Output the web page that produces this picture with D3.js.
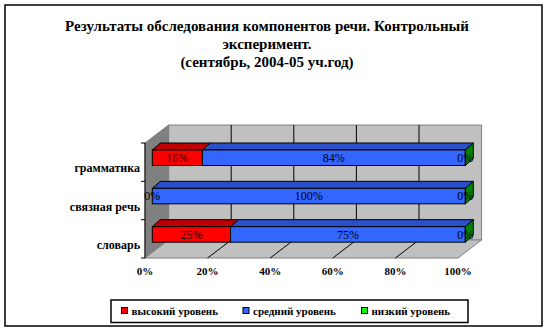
<!DOCTYPE html>
<html>
<head>
<meta charset="utf-8">
<script src="https://cdn.jsdelivr.net/npm/d3@7/dist/d3.min.js"></script>
<style>
  html, body { margin: 0; padding: 0; background: #fff; }
  svg { display: block; }
  svg text { font-family: "Liberation Serif", serif; }
</style>
</head>
<body>
<script>
// Speech components survey, control experiment (September, 2004-05)
const categories = ["грамматика", "связная речь", "словарь"];
const seriesNames = ["высокий уровень", "средний уровень", "низкий уровень"];
const high = [16, 0, 25];
const medium = [84, 100, 75];
const low = [0, 0, 0];
const tickValues = [0, 20, 40, 60, 80, 100];
const tickLabels = ["0%", "20%", "40%", "60%", "80%", "100%"];
const titleLines = [
  "Результаты обследования компонентов речи. Контрольный",
  "эксперимент.",
  "(сентябрь, 2004-05 уч.год)"
];

const W = 549, H = 331;
const frontColors = ["#ff0000", "#3366ff", "#00ff00"];
const topColors = ["#c00000", "#2a4fc8", "#00a000"];
const sideColors = ["#b00000", "#2545b0", "#008000"];

const svg = d3.select("body").append("svg").attr("width", W).attr("height", H);

// outer frame
svg.append("rect").attr("x", 5).attr("y", 5).attr("width", 537).attr("height", 321)
  .attr("fill", "#fff").attr("stroke", "#000").attr("stroke-width", 1.5);

// title
svg.append("g").selectAll("text").data(titleLines).join("text")
  .attr("x", 267).attr("y", (d, i) => 31 + i * 18)
  .attr("text-anchor", "middle").attr("font-weight", "bold").attr("font-size", 15)
  .text(d => d);

// 3D plot geometry: front plane and depth offset of the walls
const x = d3.scaleLinear().domain([0, 100]).range([145, 458]);
const y = d3.scaleBand().domain(categories).range([143, 258]);
const depth = { dx: 23.6, dy: 18 };
const barShift = { dx: 7.3, dy: 0 };
const bar = { dx: 8, dy: 7, top: 7, h: 15.5 };
const plotTop = 143, plotBottom = 258;

const g = svg.append("g");
const pts = a => a.map(p => p.join(",")).join(" ");

// back wall
g.append("polygon")
  .attr("points", pts([[x(0) + depth.dx, plotTop - depth.dy], [x(100) + depth.dx, plotTop - depth.dy],
                       [x(100) + depth.dx, plotBottom - depth.dy], [x(0) + depth.dx, plotBottom - depth.dy]]))
  .attr("fill", "#c0c0c0").attr("stroke", "#808080");
// left wall
g.append("polygon")
  .attr("points", pts([[x(0), plotTop], [x(0) + depth.dx, plotTop - depth.dy],
                       [x(0) + depth.dx, plotBottom - depth.dy], [x(0), plotBottom]]))
  .attr("fill", "#808080").attr("stroke", "#808080");
// floor
g.append("polygon")
  .attr("points", pts([[x(0), plotBottom], [x(100), plotBottom],
                       [x(100) + depth.dx, plotBottom - depth.dy], [x(0) + depth.dx, plotBottom - depth.dy]]))
  .attr("fill", "#c0c0c0").attr("stroke", "#808080");

// gridlines on back wall and floor
const inner = tickValues.slice(1, -1);
g.selectAll(".gw").data(inner).join("line")
  .attr("x1", d => x(d) + depth.dx).attr("x2", d => x(d) + depth.dx)
  .attr("y1", plotTop - depth.dy).attr("y2", plotBottom - depth.dy)
  .attr("stroke", "#000").attr("stroke-width", 1);
g.selectAll(".gf").data(inner).join("line")
  .attr("x1", d => x(d)).attr("y1", plotBottom)
  .attr("x2", d => x(d) + depth.dx).attr("y2", plotBottom - depth.dy)
  .attr("stroke", "#000").attr("stroke-width", 1);

// category axis
g.append("line").attr("x1", x(0)).attr("x2", x(0)).attr("y1", plotTop).attr("y2", plotBottom)
  .attr("stroke", "#000");
const catTicks = categories.map(c => y(c)).concat([plotBottom]);
g.selectAll(".ct").data(catTicks).join("line")
  .attr("x1", x(0) - 4).attr("x2", x(0)).attr("y1", d => d).attr("y2", d => d)
  .attr("stroke", "#000");
g.selectAll(".cl").data(categories).join("text")
  .attr("x", 140).attr("y", d => y(d) + y.bandwidth() / 2 + 10)
  .attr("text-anchor", "end").attr("font-weight", "bold").attr("font-size", 12)
  .text(d => d);

// value axis labels
g.selectAll(".vl").data(tickValues).join("text")
  .attr("x", d => x(d)).attr("y", 275)
  .attr("text-anchor", "middle").attr("font-weight", "bold").attr("font-size", 11)
  .text((d, i) => tickLabels[i]);

// stacked 3D bars
const xb = v => x(v) + barShift.dx;
const stackData = categories.map((c, i) => ({ cat: c, vals: [high[i], medium[i], low[i]] }));
stackData.forEach(row => {
  const by = y(row.cat) + bar.top;
  let acc = 0;
  const segs = row.vals.map((v, k) => { const s = { k, v, x0: acc, x1: acc + v }; acc += v; return s; });
  const bg = g.append("g");
  segs.forEach(s => {
    const a = xb(s.x0), b = xb(s.x1);
    if (s.v > 0) {
      bg.append("polygon")
        .attr("points", pts([[a, by], [b, by], [b + bar.dx, by - bar.dy], [a + bar.dx, by - bar.dy]]))
        .attr("fill", topColors[s.k]).attr("stroke", "#000").attr("stroke-width", 1);
      bg.append("rect").attr("x", a).attr("y", by).attr("width", b - a).attr("height", bar.h)
        .attr("fill", frontColors[s.k]).attr("stroke", "#000").attr("stroke-width", 1);
    }
  });
  // end face belongs to the last series
  const last = segs[segs.length - 1];
  const e = xb(last.x1);
  bg.append("polygon")
    .attr("points", pts([[e, by], [e + bar.dx, by - bar.dy], [e + bar.dx, by + bar.h - bar.dy], [e, by + bar.h]]))
    .attr("fill", sideColors[last.k]).attr("stroke", "#000").attr("stroke-width", 1);
  // value labels
  bg.selectAll("text").data(segs).join("text")
    .attr("x", s => (xb(s.x0) + xb(s.x1)) / 2).attr("y", by + 12)
    .attr("text-anchor", "middle").attr("font-size", 12)
    .text(s => s.v + "%");
});

// legend
const lg = svg.append("g");
lg.append("rect").attr("x", 111).attr("y", 300).attr("width", 357).attr("height", 22.5)
  .attr("fill", "#fff").attr("stroke", "#000").attr("stroke-width", 1.5);
const legendX = [121.5, 243, 361.5];
const items = lg.selectAll(".li").data(seriesNames).join("g")
  .attr("transform", (d, i) => `translate(${legendX[i]},307.5)`);
items.append("rect").attr("width", 6).attr("height", 6)
  .attr("fill", (d, i) => frontColors[i]).attr("stroke", "#000").attr("stroke-width", 1);
items.append("text").attr("x", 10).attr("y", 7.5)
  .attr("font-weight", "bold").attr("font-size", 11).text(d => d);
</script>
</body>
</html>
